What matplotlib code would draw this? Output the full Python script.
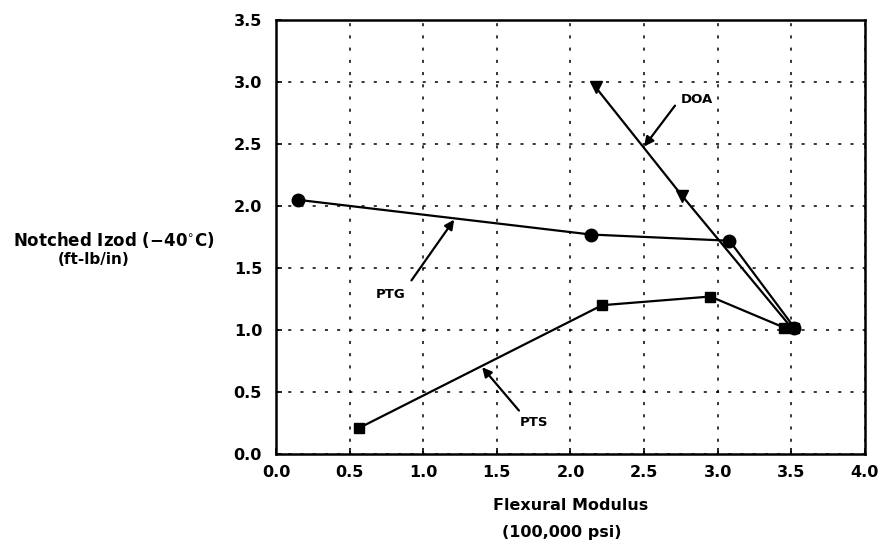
import matplotlib
matplotlib.use("Agg")
import matplotlib.pyplot as plt

# Data
ptg_x = [0.15, 2.14, 3.08, 3.52]
ptg_y = [2.05, 1.77, 1.72, 1.02]
pts_x = [0.565, 2.215, 2.95, 3.45]
pts_y = [0.21, 1.20, 1.27, 1.02]
doa_x = [2.17, 2.76, 3.50]
doa_y = [2.96, 2.08, 1.02]

x_ticks = [0.0, 0.5, 1.0, 1.5, 2.0, 2.5, 3.0, 3.5, 4.0]
y_ticks = [0.0, 0.5, 1.0, 1.5, 2.0, 2.5, 3.0, 3.5]

plt.rcParams['font.family'] = ['DejaVu Sans']
fig = plt.figure(figsize=(8.79, 5.43), dpi=100)
ax = fig.add_axes([0.314, 0.164, 0.670, 0.799])

ax.plot(ptg_x, ptg_y, color='black', lw=1.6, marker='o', ms=9, zorder=3)
ax.plot(pts_x, pts_y, color='black', lw=1.6, marker='s', ms=7, zorder=3)
ax.plot(doa_x, doa_y, color='black', lw=1.6, marker='v', ms=8,
        markevery=[0, 1], zorder=3)
# extra square at cluster end
ax.plot([3.52], [1.02], color='black', marker='s', ms=7, zorder=3)

ax.set_xlim(0, 4.0)
ax.set_ylim(0, 3.5)
ax.set_xticks(x_ticks)
ax.set_yticks(y_ticks)
ax.set_xticklabels([f"{v:.1f}" for v in x_ticks], fontsize=11.5, fontweight='bold')
ax.set_yticklabels([f"{v:.1f}" for v in y_ticks], fontsize=11.5, fontweight='bold')
ax.tick_params(axis='y', direction='in', length=4, width=1.2, pad=10)
ax.tick_params(axis='x', direction='in', length=4, width=1.2, pad=8)
ax.grid(True, color='black', linestyle=(0, (2, 6)), linewidth=1.1)
for s in ax.spines.values():
    s.set_linewidth(1.8)

arrow_kw = dict(arrowstyle='-|>', color='black', lw=1.6, mutation_scale=14,
                shrinkA=0, shrinkB=0)
ax.annotate('', xy=(2.50, 2.48), xytext=(2.71, 2.81), arrowprops=arrow_kw)
ax.text(2.86, 2.86, 'DOA', fontsize=9.5, fontweight='bold', ha='center', va='center')
ax.annotate('', xy=(1.21, 1.89), xytext=(0.92, 1.40), arrowprops=arrow_kw)
ax.text(0.78, 1.29, 'PTG', fontsize=9.5, fontweight='bold', ha='center', va='center')
ax.annotate('', xy=(1.40, 0.70), xytext=(1.65, 0.35), arrowprops=arrow_kw)
ax.text(1.75, 0.25, 'PTS', fontsize=9.5, fontweight='bold', ha='center', va='center')

fig.text(114/879, 1 - 240/543, 'Notched Izod (\u221240$^{\\circ}$C)', fontsize=12,
         fontweight='bold', ha='center', va='center')
fig.text(94/879, 1 - 260/543, '(ft-lb/in)', fontsize=11, fontweight='bold',
         ha='center', va='center')
fig.text(571/879, 1 - 505/543, 'Flexural Modulus', fontsize=11.5, fontweight='bold',
         ha='center', va='center')
fig.text(562/879, 1 - 533/543, '(100,000 psi)', fontsize=11.5, fontweight='bold',
         ha='center', va='center')

fig.savefig('out.png', dpi=100)
